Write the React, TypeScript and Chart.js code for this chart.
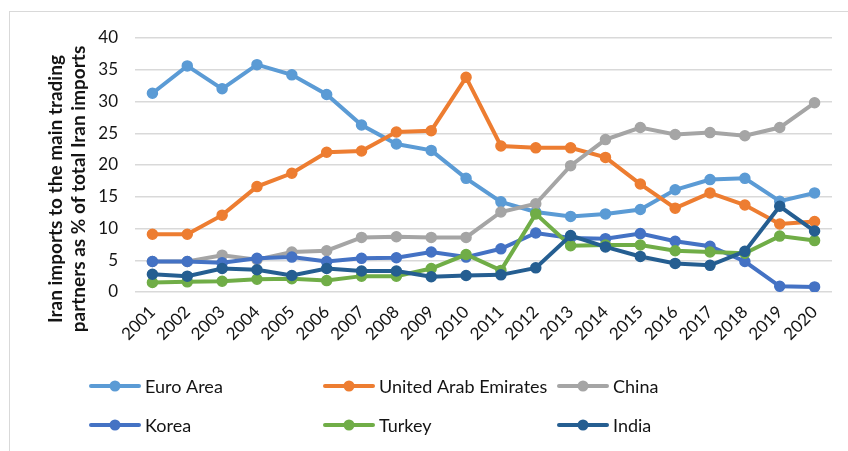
import React, { useEffect, useRef } from 'react';
import { Chart, registerables } from 'chart.js';

Chart.register(...registerables);

const years = ['2001', '2002', '2003', '2004', '2005', '2006', '2007', '2008', '2009', '2010', '2011', '2012', '2013', '2014', '2015', '2016', '2017', '2018', '2019', '2020'];

const euroArea = [31.3, 35.6, 32.0, 35.8, 34.2, 31.1, 26.3, 23.3, 22.3, 17.9, 14.2, 12.6, 11.9, 12.3, 13.0, 16.1, 17.7, 17.9, 14.3, 15.6];
const unitedArabEmirates = [9.1, 9.1, 12.1, 16.6, 18.7, 22.0, 22.2, 25.2, 25.4, 33.8, 23.0, 22.7, 22.7, 21.2, 17.0, 13.2, 15.6, 13.7, 10.7, 11.1];
const china = [4.8, 4.8, 5.8, 5.1, 6.3, 6.5, 8.6, 8.7, 8.6, 8.6, 12.6, 13.9, 19.9, 24.0, 25.9, 24.8, 25.1, 24.6, 25.9, 29.8];
const korea = [4.8, 4.8, 4.6, 5.3, 5.5, 4.8, 5.3, 5.4, 6.3, 5.5, 6.8, 9.3, 8.5, 8.4, 9.2, 8.0, 7.2, 4.8, 0.9, 0.8];
const turkey = [1.5, 1.6, 1.7, 2.0, 2.1, 1.8, 2.5, 2.5, 3.7, 5.9, 3.4, 12.3, 7.3, 7.4, 7.4, 6.5, 6.3, 6.1, 8.8, 8.1];
const india = [2.8, 2.5, 3.7, 3.5, 2.6, 3.7, 3.3, 3.3, 2.4, 2.6, 2.7, 3.8, 8.9, 7.1, 5.6, 4.5, 4.2, 6.4, 13.5, 9.6];

const seriesNames = ['Euro Area', 'United Arab Emirates', 'China', 'Korea', 'Turkey', 'India'];
const seriesData = [euroArea, unitedArabEmirates, china, korea, turkey, india];
const seriesColors = ['#5B9BD5', '#ED7D31', '#A5A5A5', '#4472C4', '#70AD47', '#255E91'];

const yTitleLines = ['Iran imports to the main trading', 'partners as % of total Iran imports'];
const yMin = 0;
const yMax = 40;
const yStep = 5;

const TEXT = '#141414';
const FONT = 'Lato';

const decorPlugin = {
  id: 'decor',
  beforeDraw(chart: any) {
    const ctx = chart.ctx;
    ctx.save();
    ctx.fillStyle = '#ffffff';
    ctx.fillRect(0, 0, chart.width, chart.height);
    ctx.strokeStyle = '#d9d9d9';
    ctx.lineWidth = 1;
    ctx.strokeRect(9.5, 11.5, chart.width + 20, chart.height + 20);
    ctx.restore();
  },
  afterDraw(chart: any) {
    const ctx = chart.ctx;
    // y axis title
    ctx.save();
    ctx.translate(56, 189);
    ctx.rotate(-Math.PI / 2);
    ctx.font = `bold 19px ${FONT}`;
    ctx.fillStyle = TEXT;
    ctx.textAlign = 'center';
    ctx.textBaseline = 'middle';
    yTitleLines.forEach((line, i) => ctx.fillText(line, 0, i * 23));
    ctx.restore();

    // legend
    const colX = [89, 323, 557];
    const rowY = [386, 425];
    ctx.save();
    ctx.font = `18px ${FONT}`;
    ctx.textBaseline = 'middle';
    ctx.textAlign = 'left';
    seriesNames.forEach((name, i) => {
      const x0 = colX[i % 3];
      const y = rowY[Math.floor(i / 3)];
      const color = seriesColors[i];
      ctx.strokeStyle = color;
      ctx.lineWidth = 4;
      ctx.lineCap = 'round';
      ctx.beginPath();
      ctx.moveTo(x0 + 2, y);
      ctx.lineTo(x0 + 50, y);
      ctx.stroke();
      ctx.fillStyle = color;
      ctx.beginPath();
      ctx.arc(x0 + 26, y, 5.5, 0, Math.PI * 2);
      ctx.fill();
      ctx.fillStyle = TEXT;
      ctx.fillText(name, x0 + 56, y + 1);
    });
    ctx.restore();
  },
};

export default function App() {
  const canvasRef = useRef<HTMLCanvasElement | null>(null);

  useEffect(() => {
    let chart: Chart | null = null;
    let cancelled = false;
    const make = () => {
      if (cancelled || !canvasRef.current) return;
      chart = new Chart(canvasRef.current, {
        type: 'line',
        data: {
          labels: years,
          datasets: seriesNames.map((name, i) => ({
            label: name,
            data: seriesData[i],
            borderColor: seriesColors[i],
            backgroundColor: seriesColors[i],
            pointBackgroundColor: seriesColors[i],
            pointBorderColor: seriesColors[i],
            borderWidth: 4,
            pointRadius: 5,
            pointBorderWidth: 1.5,
            tension: 0,
            fill: false,
            order: seriesNames.length - i,
          })),
        },
        options: {
          responsive: false,
          animation: false,
          devicePixelRatio: 1,
          layout: { padding: { left: 9, top: 38, right: 16, bottom: 90 } },
          plugins: {
            legend: { display: false },
            tooltip: { enabled: false },
            title: { display: false },
          },
          scales: {
            x: {
              offset: true,
              grid: { display: false, drawTicks: false },
              border: { display: false },
              ticks: {
                font: { family: FONT, size: 17 },
                color: TEXT,
                minRotation: 45,
                maxRotation: 45,
                padding: 10,
                autoSkip: false,
              },
              afterFit: (s: any) => {
                s.height = 69;
              },
            },
            y: {
              min: yMin,
              max: yMax,
              ticks: {
                stepSize: yStep,
                font: { family: FONT, size: 17 },
                color: TEXT,
                padding: 17,
              },
              grid: { color: '#d9d9d9', lineWidth: 1.5, drawTicks: false },
              border: { display: false },
              afterFit: (s: any) => {
                s.width = 126;
              },
            },
          },
        },
        plugins: [decorPlugin],
      });
    };
    const fonts: any = (document as any).fonts;
    if (fonts && fonts.load) {
      Promise.all([
        fonts.load(`17px ${FONT}`),
        fonts.load(`18px ${FONT}`),
        fonts.load(`bold 19px ${FONT}`),
      ]).then(make, make);
    } else {
      make();
    }
    return () => {
      cancelled = true;
      if (chart) chart.destroy();
    };
  }, []);

  return (
    <div style={{ position: 'absolute', left: 0, top: 0, width: 848, height: 451, background: '#fff' }}>
      <canvas ref={canvasRef} width={848} height={451} style={{ display: 'block', width: 848, height: 451 }} />
    </div>
  );
}
